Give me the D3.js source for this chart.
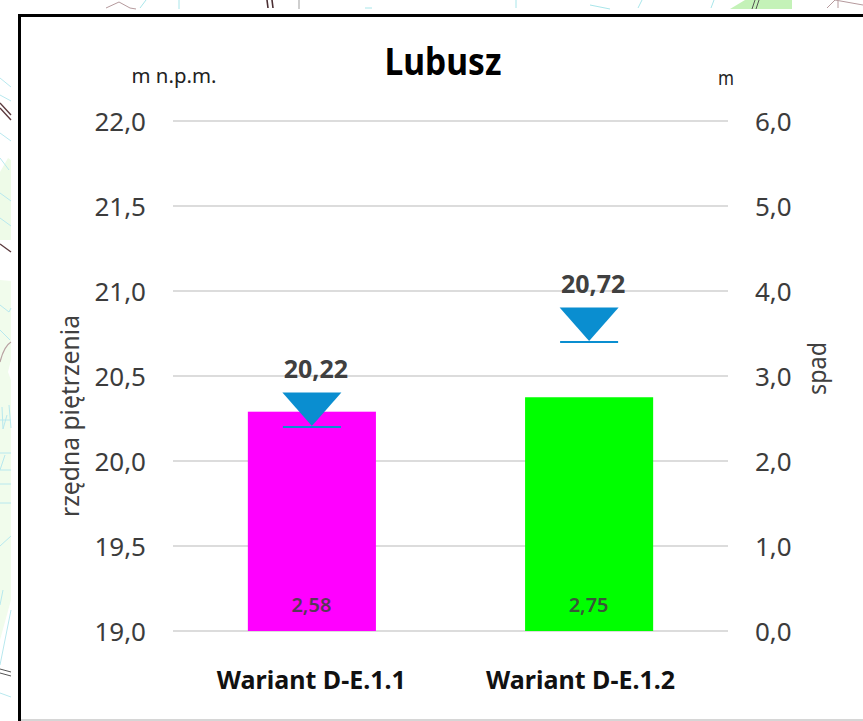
<!DOCTYPE html>
<html><head><meta charset="utf-8">
<script src="https://cdn.jsdelivr.net/npm/d3@7/dist/d3.min.js"></script>
<style>html,body{margin:0;padding:0;background:#fff;overflow:hidden}svg{display:block}text{font-family:"Noto Sans","Open Sans",sans-serif}</style>
</head><body><svg id="c" width="863" height="721"></svg>
<script>
const categories = ["Wariant D-E.1.1", "Wariant D-E.1.2"];
const spad = [2.58, 2.75];
const rzedna = [20.22, 20.72];
const barColors = ["#ff00ff", "#00ff00"];
const leftTicks = [19, 19.5, 20, 20.5, 21, 21.5, 22];
const rightTicks = [0, 1, 2, 3, 4, 5, 6];

// torn-off map fragments visible around the pasted chart
const mapFills = [
  ["M0,172L8,158L11,160L11,240L0,240Z", "#eefbe8"],
  ["M0,280L11,281L11,360L8,372L11,380L11,600L0,640Z", "#f1fcec"],
  ["M730,9L745,0L792,0L792,9Z", "#c4f2b8"]
];
const mapLines = [
  ["M0,78L11,87M0,95L11,101M0,133L11,141M0,158L9,170M0,193L11,201M0,218L11,226M0,305L9,312L11,308M0,330L10,340", "#b8e8ee", 1],
  ["M2,407L3,429L7,415M9,405L11,428M0,420L11,420M0,453L11,453M0,470L11,470M0,484L11,484M0,503L11,503M0,546L11,536M0,605L3,590M0,665L11,610M0,693L11,697M5,455L0,470", "#b8e8ee", 1],
  ["M106,8L119,2L130,8L136,9", "#b59a9d", 1],
  ["M140,8L146,0M179,0L179,9M365,8L372,8M516,0L516,8M590,5L610,9M638,8L642,0M711,8L714,0", "#a9e6ea", 1],
  ["M0,103L11,115M0,108L11,120M0,244L11,252", "#5d3b3f", 1.4],
  ["M0,362C3,350 6,345 11,342", "#b9a3a3", 1.2],
  ["M0,669L11,672M0,673L11,676", "#555555", 1],
  ["M267,0L268,8M272,0L273,8", "#4b2f33", 1.6],
  ["M299,0L299,9", "#bbbbbb", 1.4],
  ["M752,9L755,0M756,9L759,0", "#555555", 1],
  ["M827,8L835,0L863,5M838,1L838,8", "#b59a9d", 1]
];

const svg = d3.select("#c");
const W = 863, H = 721;
const map = svg.append("g");
map.selectAll("path.f").data(mapFills).join("path").attr("class","f").attr("d",d=>d[0]).attr("fill",d=>d[1]);
map.selectAll("path.l").data(mapLines).join("path").attr("class","l").attr("d",d=>d[0])
  .attr("fill","none").attr("stroke",d=>d[1]).attr("stroke-width",d=>d[2]);

// frame
svg.append("path").attr("d",`M${W},15.5H19.5V${H}`).attr("fill","none").attr("stroke","#000").attr("stroke-width",3);
svg.append("path").attr("d",`M21,720H${W}`).attr("stroke","#c8c8c8").attr("stroke-width",1.5);

const x = d3.scaleBand().domain(categories).range([173,728]).paddingInner(0.538).paddingOuter(0.27);
const yL = d3.scaleLinear().domain([19,22]).range([631,121]);
const yR = d3.scaleLinear().domain([0,6]).range([631,121]);
const fmt1 = v => d3.format(".1f")(v).replace(".",",");
const fmt2 = v => d3.format(".2f")(v).replace(".",",");

// gridlines
svg.append("g").selectAll("line").data(leftTicks).join("line")
  .attr("x1",173).attr("x2",728).attr("y1",d=>yL(d)).attr("y2",d=>yL(d))
  .attr("stroke","#dcdcdc").attr("stroke-width",2);

// axes
const axL = svg.append("g").attr("transform","translate(146,0)").call(d3.axisLeft(yL).tickValues(leftTicks).tickSize(0).tickPadding(0).tickFormat(fmt1));
const axR = svg.append("g").attr("transform","translate(755,0)").call(d3.axisRight(yR).tickValues(rightTicks).tickSize(0).tickPadding(0).tickFormat(fmt1));
[axL,axR].forEach(a=>{a.select(".domain").remove();a.selectAll("text").attr("font-size",26).attr("fill","#3c3c3c").attr("font-family",'"Noto Sans"').attr("dy","0.36em");});

// bars
svg.append("g").selectAll("rect").data(categories).join("rect")
  .attr("x",d=>x(d)).attr("width",x.bandwidth())
  .attr("y",(d,i)=>yR(spad[i])).attr("height",(d,i)=>yR(0)-yR(spad[i]))
  .attr("fill",(d,i)=>barColors[i]);

// bar value labels
svg.append("g").selectAll("text").data(categories).join("text")
  .attr("x",d=>x(d)+x.bandwidth()/2-0.5).attr("y",yR(0)-19.5)
  .attr("text-anchor","middle").attr("font-size",20).attr("font-weight",600)
  .attr("fill","#404040").attr("fill-opacity",0.9).text((d,i)=>fmt2(spad[i]));

// water-level markers
const markerColor = "#0a8ed0";
const level = svg.append("g").selectAll("g").data(categories).join("g")
  .attr("transform",(d,i)=>`translate(${x(d)+x.bandwidth()/2},${yL(rzedna[i])+3.5})`);
level.append("path").attr("d","M-29.5,-34.5H29.5L0,-1Z").attr("fill",markerColor);
level.append("line").attr("x1",-29).attr("x2",29).attr("y1",0).attr("y2",0).attr("stroke",markerColor).attr("stroke-width",2);
level.append("text").attr("x",4).attr("y",-49).attr("text-anchor","middle").attr("font-size",25).attr("font-weight",700)
  .attr("fill","#404040").text((d,i)=>fmt2(rzedna[i]));

// category labels
const catShift = [-0.5, -8.5];
svg.append("g").selectAll("text").data(categories).join("text")
  .attr("x",(d,i)=>x(d)+x.bandwidth()/2+catShift[i]).attr("y",689)
  .attr("text-anchor","middle").attr("font-size",25).attr("font-weight",700).attr("fill","#111")
  .attr("textLength",189).attr("lengthAdjust","spacingAndGlyphs").text(d=>d);

// titles
svg.append("text").attr("x",443).attr("y",75).attr("text-anchor","middle").attr("font-size",37).attr("font-weight",700).attr("fill","#000")
  .attr("textLength",117).attr("lengthAdjust","spacingAndGlyphs").text("Lubusz");
svg.append("text").attr("x",174).attr("y",83).attr("text-anchor","middle").attr("font-size",19).attr("fill","#222")
  .attr("textLength",85).attr("lengthAdjust","spacingAndGlyphs").text("m n.p.m.");
svg.append("text").attr("x",726).attr("y",85).attr("text-anchor","middle").attr("font-size",19).attr("fill","#222")
  .attr("textLength",16).attr("lengthAdjust","spacingAndGlyphs").text("m");
svg.append("text").attr("transform","translate(79,416) rotate(-90)").attr("text-anchor","middle").attr("font-size",25).attr("fill","#404040")
  .attr("textLength",202).attr("lengthAdjust","spacingAndGlyphs").text("rzędna piętrzenia");
svg.append("text").attr("transform","translate(826,368.5) rotate(-90)").attr("text-anchor","middle").attr("font-size",25).attr("fill","#404040")
  .attr("textLength",53).attr("lengthAdjust","spacingAndGlyphs").text("spad");
</script></body></html>
